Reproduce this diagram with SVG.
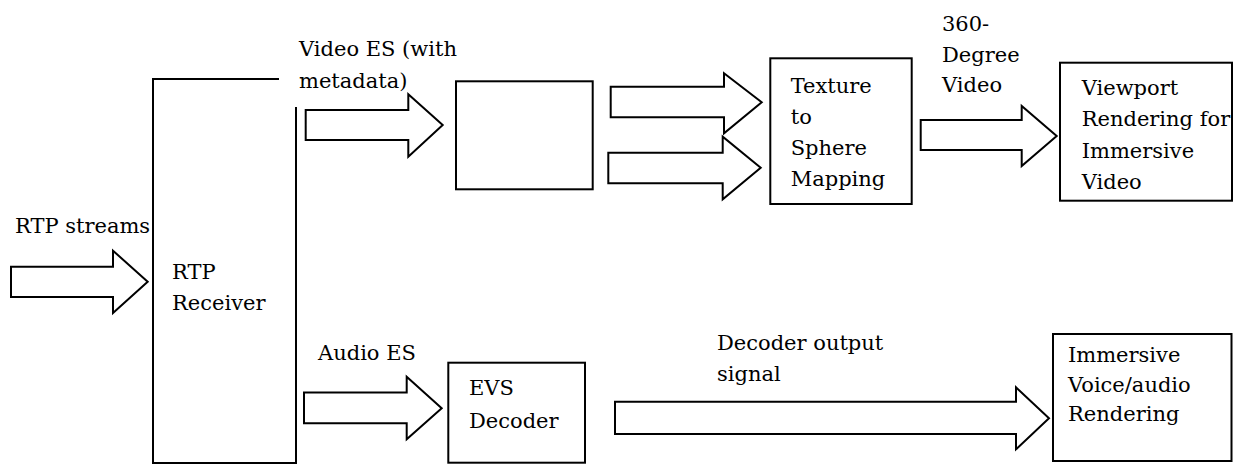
<svg xmlns="http://www.w3.org/2000/svg" width="1243" height="464" viewBox="0 0 1243 464" font-family="'DejaVu Serif', serif" font-size="21">
<defs>
<style type="text/css">
.box{fill:#fff;stroke:#000;stroke-width:2}
.arr{fill:#fff;stroke:#000;stroke-width:2;stroke-linejoin:miter}
</style>
</defs>
<rect width="1243" height="464" fill="#fff"/>
<g id="rtp-receiver">
<path d="M279,79 H153 V463 H296 V107" fill="none" stroke="#000" stroke-width="2"/>
<text x="172" y="279">RTP</text>
<text x="172" y="310">Receiver</text>
</g>
<g id="video-decoder">
<rect class="box" x="456" y="81.3" width="136.7" height="108"/>
</g>
<g id="texture-to-sphere">
<rect class="box" x="770.3" y="58.3" width="141.4" height="145.7"/>
<text x="790.7" y="93.3">Texture</text>
<text x="790.7" y="124">to</text>
<text x="790.7" y="155">Sphere</text>
<text x="790.7" y="185.5">Mapping</text>
</g>
<g id="viewport-rendering">
<rect class="box" x="1060" y="62.7" width="172" height="138"/>
<text x="1081.7" y="94.5">Viewport</text>
<text x="1081.7" y="126">Rendering for</text>
<text x="1081.7" y="158">Immersive</text>
<text x="1081.7" y="189">Video</text>
</g>
<g id="evs-decoder">
<rect class="box" x="448.3" y="362.7" width="136.7" height="100"/>
<text x="469" y="395">EVS</text>
<text x="469" y="428">Decoder</text>
</g>
<g id="audio-rendering">
<rect class="box" x="1053" y="334" width="178.5" height="127"/>
<text x="1068" y="362">Immersive</text>
<text x="1068" y="391.5">Voice/audio</text>
<text x="1068" y="420.5">Rendering</text>
</g>
<g id="connectors">
<polygon class="arr" points="11,266.7 113,266.7 113,250.7 147.7,281.7 113,313 113,297 11,297"/>
<polygon class="arr" points="305.7,110 408.3,110 408.3,94.3 442.7,125 408.3,156.7 408.3,140 305.7,140"/>
<polygon class="arr" points="610.7,86.7 724,86.7 724,73.3 761.7,102.3 724,133.3 724,117.3 610.7,117.3"/>
<polygon class="arr" points="608.3,152.7 722.7,152.7 722.7,136.7 760.7,167.7 722.7,199.3 722.7,183.3 608.3,183.3"/>
<polygon class="arr" points="920.7,120 1021.7,120 1021.7,106 1056.7,136 1021.7,166 1021.7,150 920.7,150"/>
<polygon class="arr" points="304,392.5 406.7,392.5 406.7,376.7 441.7,408.3 406.7,439.3 406.7,423.3 304,423.3"/>
<polygon class="arr" points="615,401.7 1016,401.7 1016,387.3 1049,418.3 1016,449.3 1016,434 615,434"/>
<text x="15" y="233">RTP streams</text>
<text x="299" y="56">Video ES (with</text>
<text x="299" y="88">metadata)</text>
<text x="942" y="31">360-</text>
<text x="942" y="62">Degree</text>
<text x="942" y="92">Video</text>
<text x="318" y="360">Audio ES</text>
<text x="717" y="350">Decoder output</text>
<text x="717" y="381">signal</text>
</g>
</svg>
